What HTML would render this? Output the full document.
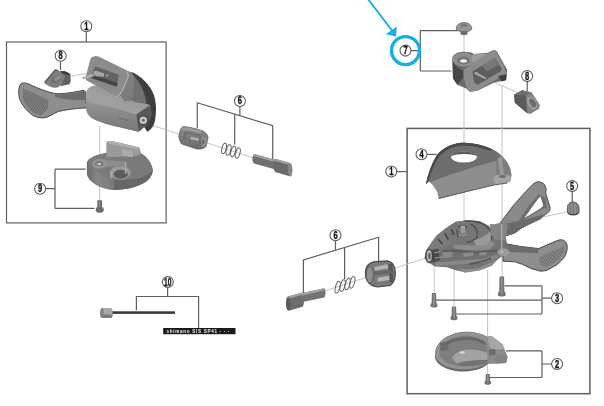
<!DOCTYPE html>
<html><head><meta charset="utf-8">
<style>
html,body{margin:0;padding:0;background:#fff;width:604px;height:406px;overflow:hidden}
svg{position:absolute;left:0;top:0;display:block;will-change:transform;filter:blur(0.35px)}
.ln{stroke:#5e5e5e;stroke-width:1.2;fill:none}
.ax{stroke:#c4c4c4;stroke-width:1;fill:none}
.lb circle{fill:#fff;stroke:#5a5a5a;stroke-width:1.05}
.lb text{font-family:"Liberation Sans",sans-serif;font-weight:bold;font-size:10px;fill:#151515;stroke:#151515;stroke-width:0.38}
</style></head><body>
<svg width="604" height="406" viewBox="0 0 604 406">
<!-- boxes -->
<rect class="ln" x="6.5" y="42" width="159.6" height="180.9"/>
<rect class="ln" x="407.1" y="128.4" width="182.8" height="265.3" style="stroke-width:1.5"/>
<!-- axis lines -->
<g class="ax">
<line x1="71.5" y1="75.8" x2="91" y2="73"/>
<line x1="99.7" y1="126" x2="99.7" y2="206"/>
<line x1="145" y1="123" x2="291" y2="170"/>
<line x1="464" y1="35" x2="464" y2="222"/>
<line x1="502" y1="85" x2="502" y2="277"/>
<line x1="484" y1="77.8" x2="517" y2="92.4"/>
<line x1="323" y1="291.5" x2="426" y2="258"/>
<line x1="566.4" y1="212" x2="500" y2="226"/>
<line x1="434.2" y1="262" x2="434.2" y2="293"/>
<line x1="454.1" y1="266" x2="454.1" y2="306"/>
<line x1="487.6" y1="270" x2="487.6" y2="375"/>
</g>
<!-- leader lines -->
<g class="ln">
<path d="M86.3 31.6V42"/>
<path d="M60.5 61.3V70"/>
<path d="M45.3 188.7H55M55 169.2V208.4M55 169.2H85.5M55 208.4H94.5"/>
<path d="M239.9 106.3V115.5M197.3 128V102.7L272.7 125.8V159M234.7 114.2V144.4"/>
<path d="M167.6 287.5V296.5M136.4 310.3V296.5H198.6V328"/>
<path d="M410.8 50.6H420.3M420.3 30.6V71M420.3 30.6H457.6M420.3 71H451.5"/>
<path d="M527.2 81.4V91"/>
<path d="M396.8 171.6H407.1"/>
<path d="M426.7 154.4H436.7"/>
<path d="M572.2 191.5V202"/>
<path d="M551.8 298.2H542M435.6 300.2H542M542 285.9V314M504.5 285.9H542M454.8 314H542"/>
<path d="M551.8 364H542M542 350.9V377.5M506 350.9H542M488.5 377.5H542"/>
<path d="M335.5 240.6V249.6M303.4 294V259.9L378.6 237.3V262M344.6 247.7V279"/>
</g>
<!-- blue highlight -->
<g stroke="#0fb0ec" fill="none">
<circle cx="405.5" cy="50.6" r="14" stroke-width="3.3"/>
<line x1="367.9" y1="-1" x2="392" y2="30.5" stroke-width="1.9"/>
</g>
<polygon points="396,36.4 385.8,34.3 396.8,26.6" fill="#0fb0ec"/>

<defs>
<linearGradient id="gBody" x1="0" y1="0" x2="0" y2="1"><stop offset="0" stop-color="#a2a2a2"/><stop offset="0.45" stop-color="#8a8a8a"/><stop offset="1" stop-color="#5c5c5c"/></linearGradient>
<linearGradient id="gLever" x1="0" y1="0" x2="1" y2="1"><stop offset="0" stop-color="#909090"/><stop offset="1" stop-color="#7c7c7c"/></linearGradient>
<linearGradient id="gDisc" x1="0" y1="0" x2="1" y2="0"><stop offset="0" stop-color="#6a6a6a"/><stop offset="0.5" stop-color="#8c8c8c"/><stop offset="1" stop-color="#6a6a6a"/></linearGradient>
<linearGradient id="gFront" x1="0" y1="0" x2="0" y2="1"><stop offset="0" stop-color="#949494"/><stop offset="1" stop-color="#777"/></linearGradient>
<linearGradient id="gWall" x1="0" y1="0" x2="1" y2="0"><stop offset="0" stop-color="#6a6a6a"/><stop offset="0.4" stop-color="#868686"/><stop offset="1" stop-color="#7a7a7a"/></linearGradient>
<linearGradient id="gNut" x1="0" y1="0" x2="0" y2="1"><stop offset="0" stop-color="#8c8c8c"/><stop offset="1" stop-color="#6a6a6a"/></linearGradient>
<pattern id="hatch2" width="16" height="16" patternUnits="userSpaceOnUse" patternTransform="rotate(35)"><rect width="16" height="16" fill="#8a8a8a"/><rect width="6" height="16" fill="#666"/></pattern>
<pattern id="hatch" width="2" height="2" patternUnits="userSpaceOnUse" patternTransform="rotate(35)"><rect width="2" height="2" fill="#868686"/><rect width="0.9" height="2" fill="#626262"/></pattern>
</defs>
<!-- LEFT SHIFTER -->
<g id="leftShifter">
<!-- lever paddle -->
<path d="M21,83.6 C23,82.6 27,82.6 32.2,85.6 C38,88.5 46,91.5 54.7,93.5 C60,94 68,93.5 84,90.2 L87,108 C80,108.2 72,108.6 58.7,111.4 C54,113 52,115.5 46,117.5 C41,118.5 37,117.5 33,115.5 C27,111.5 22,105 19.6,98.8 C18.2,94 18.2,87 21,83.6 Z" fill="#8e8e8e" stroke="#3c3c3c" stroke-width="0.9"/>
<path d="M55,94.5 C65,95 75,93 86,91 L86.5,100 C76,100.5 66,100 55,97 Z" fill="#6c6c6c"/>
<path d="M22.9,88.2 C32,92 42,97 48.1,100.2 L48.1,108.1 C45,112 43,114.5 40.2,115.4 C36,114.5 33,113 30.9,110.8 C27,106 24,102 22.9,98.8 Z" fill="url(#hatch)"/>
<!-- dark back shell -->
<g transform="translate(80 52) scale(0.2069)">
<path d="M248,96 C295,116 340,160 358,210 C370,250 370,290 362,335 C355,360 345,375 325,386 L270,300 L262,180 Z" fill="#3e3e3e"/>
<path d="M236,94 C275,120 305,170 318,228 L322,262 L268,300 L196,212 Z" fill="#707070"/>
<!-- body -->
<path d="M30,205 C30,182 45,166 72,162 C100,160 128,168 150,180 L262,240 L338,255 L345,300 C340,330 320,360 285,385 L200,365 C150,355 100,342 62,322 C42,310 30,292 30,270 Z" fill="#9c9c9c"/>
<path d="M30,238 C70,250 140,262 200,280 C230,288 255,296 272,302 L280,385 L200,366 C150,356 100,343 62,323 C42,311 30,292 30,270 Z" fill="url(#gFront)"/>
<path d="M40,178 C80,190 140,215 190,240 C230,258 262,270 300,280 L272,302 C230,290 180,276 140,262 C100,250 60,240 30,236 L32,200 Z" fill="#a4a4a4" opacity="0.55"/>
<path d="M272,302 L340,256 L346,300 C340,330 320,360 282,386 Z" fill="#585858"/>
<circle cx="306" cy="330" r="21" fill="#c8c8c8" stroke="#3c3c3c" stroke-width="5"/>
<circle cx="306" cy="330" r="7" fill="#666"/>
<path d="M185,318 L235,332" stroke="#6a6a6a" stroke-width="6" opacity="0.8"/>
<!-- stand -->
<path d="M192,198 L258,208 L248,236 L212,238 Z" fill="#7a7a7a"/>
<!-- bracket frame -->
<path d="M90,22 L245,98 C255,104 259,111 259,120 L257,201 C250,208 240,212 230,213 L173,215 L36,140 C28,136 25,128 28,120 L50,35 C53,28 58,25 64,23 C70,18 80,18 90,22 Z" fill="#8c8c8c"/>
<path d="M226,95 L245,98 C255,104 259,111 259,120 L257,201 C250,208 240,212 230,213 L173,215 C182,215 192,210 200,195 L232,125 C235,110 233,100 226,95 Z" fill="#7e7e7e"/>
<path d="M226,95 C233,100 235,110 232,125 L200,195 C192,210 182,215 173,215" fill="none" stroke="#b8b8b8" stroke-width="5"/>
<path d="M72,68 L188,110 L176,176 L52,134 Z" fill="#646464"/>
<path d="M58,108 L182,150 L178,168 L55,126 Z" fill="#454545"/>
<path d="M54,127 L178,168 L176,176 L52,134 Z" fill="#8a8a8a"/>
<path d="M10,122 L70,104 L72,116 L14,132 Z" fill="#b0b0b0"/>
<path d="M62,96 C66,88 80,86 90,92 L120,102 L118,122 L86,120 C72,118 60,108 62,96 Z" fill="#a8a8a8" stroke="#555" stroke-width="4"/>
<path d="M125,104 L140,108 L138,124 L122,120 Z" fill="#909090" stroke="#555" stroke-width="3"/>
</g>
</g>
<!-- part 8 left -->
<g transform="translate(40 62) scale(0.07386)">
<path d="M262,130 L325,122 C360,135 395,150 412,172 L416,255 L402,300 L285,325 L262,300 Z" fill="#626262"/>
<path d="M262,130 L325,122 C360,135 395,150 412,172 L400,185 C370,170 340,160 300,158 Z" fill="#3e3e3e"/>
<path d="M58,272 L195,108 C210,98 230,100 245,112 L340,185 L300,290 C280,320 250,340 220,348 C195,352 170,350 140,335 L78,302 C62,295 55,285 58,272 Z" fill="#7e7e7e"/>
<path d="M58,272 L195,108 C210,98 230,100 245,112 L255,122 L210,118 L80,270 Z" fill="#5a5a5a"/>
<ellipse cx="222" cy="232" rx="68" ry="42" transform="rotate(-38 222 232)" fill="#6c6c6c"/>
<ellipse cx="235" cy="222" rx="50" ry="28" transform="rotate(-38 235 222)" fill="#8e8e8e"/>
</g>
<!-- dial part 9 -->
<g transform="translate(80 135) scale(0.1479)">
<path d="M48,185 C55,160 100,135 180,120 L180,45 L212,40 L400,85 L412,125 C450,145 488,190 492,240 C492,262 482,282 460,305 C420,340 340,370 250,372 C160,370 80,335 52,280 C46,260 46,205 48,185 Z" fill="#6c6c6c"/>
<path d="M48,185 C55,160 100,135 180,120 L412,125 C450,145 488,190 492,240 C480,275 420,300 340,305 C250,310 160,295 100,255 C60,225 48,205 48,185 Z" fill="#7a7a7a"/>
<path d="M48,178 C70,230 140,280 230,300 L230,372 C150,365 80,330 52,280 C46,260 46,215 48,178 Z" fill="url(#gWall)"/>
<path d="M230,300 C330,315 450,290 490,240 C488,262 480,282 460,305 C420,340 340,368 230,372 Z" fill="#676767"/>
<path d="M180,45 L212,40 L400,85 L412,125 L385,142 L180,150 Z" fill="#9a9a9a"/>
<path d="M180,45 L212,40 L400,85 L405,100 L200,60 Z" fill="#b0b0b0"/>
<path d="M285,95 L360,110 L355,150 L285,140 Z" fill="#acacac"/>
<path d="M150,165 L300,180 L315,205 L160,218 Z" fill="#8c8c8c"/>
<ellipse cx="130" cy="195" rx="48" ry="32" fill="#959595"/>
<ellipse cx="130" cy="192" rx="28" ry="17" fill="#7a7a7a"/>
<ellipse cx="130" cy="196" rx="14" ry="7" fill="#d0d0d0"/>
<ellipse cx="272" cy="255" rx="72" ry="46" fill="#9a9a9a"/>
<ellipse cx="275" cy="265" rx="48" ry="30" fill="#5c5c5c"/>
<path d="M308,185 L308,262 M210,250 L210,292" stroke="#b0b0b0" stroke-width="9"/>
</g>
<!-- screw 9 -->
<path d="M97.3,200.2 L102,200.2 L102,206.7 C103.5,207.5 104,209 103.8,210.5 C103.3,212.3 101.5,212.8 99.8,212.8 C97.5,212.8 95.8,212 95.8,210 C95.8,208.5 96.5,207.3 97.3,206.7 Z" fill="#6c6c6c"/>
<rect x="98.8" y="200.5" width="1.5" height="7" fill="#8c8c8c"/>
<!-- PART 6 LEFT -->
<g transform="translate(170 120) scale(0.2153)">
<path d="M60,30 C90,32 130,42 150,50 C165,58 175,68 177,80 L168,122 C160,132 145,136 125,135 L55,112 C45,100 40,85 42,70 C45,50 50,38 60,30 Z" fill="url(#gNut)" stroke="#4a4a4a" stroke-width="3"/>
<path d="M60,32 C90,34 130,44 150,52 L140,62 C110,52 80,48 55,48 Z" fill="#9a9a9a"/>
<path d="M68,52 L145,70 L140,104 L62,88 Z" fill="#6e6e6e"/>
<path d="M76,60 L138,75 L134,98 L72,84 Z" fill="#7e7e7e"/>
<path d="M98,78 L134,86 L132,98 L96,90 Z" fill="#b0b0b0"/>
<path d="M145,75 L175,82 L168,122 L148,128 Z" fill="#8c8c8c"/>
<path d="M150,95 L160,98 L158,110 L148,108 Z" fill="#666"/>
<g fill="none" stroke="#606060" stroke-width="4.5"><ellipse cx="251" cy="132" rx="10" ry="25" transform="rotate(15 251 132)"/><ellipse cx="272" cy="139.5" rx="10" ry="25" transform="rotate(15 272 139.5)"/><ellipse cx="293.5" cy="146.5" rx="10" ry="25" transform="rotate(15 293.5 146.5)"/><ellipse cx="315" cy="153.5" rx="10" ry="25" transform="rotate(15 315 153.5)"/></g>
<path d="M392,158 L490,186 L490,230 L390,202 C380,196 380,164 392,158 Z" fill="#707070"/>
<path d="M392,158 L490,186 L490,196 L388,167 Z" fill="#a2a2a2"/>
<path d="M488,180 L558,200 C570,208 572,252 560,262 L488,242 C478,234 478,188 488,180 Z" fill="#6a6a6a"/>
<path d="M488,180 L558,200 L560,210 L484,189 Z" fill="#a0a0a0"/>
<ellipse cx="558" cy="231" rx="10" ry="30" fill="#888"/>
</g>
<!-- PART 10 cable -->
<g>
<path d="M102.5,308 L111,308 C112.2,308.5 112.8,310 112.8,313 C112.8,316 112.2,317.5 111,318 L102.5,318 C100.8,317.5 100,315.5 100,313 C100,310.5 100.8,308.5 102.5,308 Z" fill="#a8a8a8"/>
<path d="M100.3,314.5 L112.8,314.5 C112.6,316.5 112,317.6 111,318 L102.5,318 C101,317.6 100.5,316.3 100.3,314.5 Z" fill="#7c7c7c"/>
<ellipse cx="102" cy="313" rx="1.8" ry="5" fill="#858585"/>
<rect x="112.5" y="311.3" width="62.5" height="2.6" fill="#3a3a3a"/>
<rect x="163.2" y="328" width="72.3" height="6.2" fill="#1a1a1a"/>
<text x="166.5" y="332.9" textLength="63" lengthAdjust="spacing" style="font-family:'Liberation Sans',sans-serif;font-size:4.6px;font-weight:bold;fill:#f0f0f0">shimano SIS   SP41  · · ·</text>
</g>
<!-- PART 7 screw -->
<path d="M460.3,30 L467.7,30 L467.5,34.5 C466,35.6 462,35.6 460.5,34.5 Z" fill="#7a7a7a"/>
<path d="M460.5,32 L467.5,32 M460.5,33.5 L467.5,33.5" stroke="#5a5a5a" stroke-width="0.5"/>
<path d="M456.3,29.3 C456,25 459.5,22.6 464,22.6 C468.5,22.6 472,25 471.7,29.3 C470,31.3 467,31.8 464,31.8 C461,31.8 458,31.3 456.3,29.3 Z" fill="#969696" stroke="#555" stroke-width="0.7"/>
<ellipse cx="464" cy="25.3" rx="3.6" ry="1.6" fill="#7a7a7a"/>
<!-- PART 7 -->
<g transform="translate(445 45) scale(0.1233)">
<path d="M60,100 C70,75 100,58 150,55 C190,55 220,62 235,72 L345,62 L385,45 C400,40 415,45 425,60 L500,195 L498,262 L462,292 L400,305 L262,372 L200,380 L172,352 L100,322 L65,272 Z" fill="#6a6a6a"/>
<path d="M60,105 C62,140 90,190 150,205 L150,262 L100,322 L65,272 Z" fill="#474747"/>
<ellipse cx="150" cy="118" rx="90" ry="58" fill="#8e8e8e"/>
<ellipse cx="150" cy="125" rx="50" ry="32" fill="#767676"/>
<ellipse cx="150" cy="130" rx="28" ry="14" fill="#f0f0f0"/>
<path d="M225,75 L340,68 L250,150 L215,130 Z" fill="#9e9e9e"/>
<path d="M150,200 L345,65 C365,52 385,44 402,45 C412,46 420,52 425,62 L500,200 C502,215 496,230 488,238 L270,365 C250,376 220,380 205,375 C185,365 175,350 170,335 L150,255 Z" fill="#8c8c8c"/>
<path d="M402,45 C412,46 420,52 425,62 L500,200 L502,240 L480,170 L420,60 Z" fill="#5a5a5a"/>
<path d="M222,215 L405,105 L462,192 L450,215 L265,322 L236,302 Z" fill="#5e5e5e"/>
<path d="M300,168 L405,105 L440,160 L340,215 Z" fill="#777"/>
<path d="M236,220 C245,210 260,212 270,225 L335,262 C340,268 338,280 328,282 L262,250 C245,245 232,235 236,220 Z" fill="#a4a4a4" stroke="#555" stroke-width="6"/>
<path d="M430,252 L500,238 L496,285 L462,296 Z" fill="#3e3e3e"/>
</g>
<!-- PART 8 right -->
<g transform="translate(500 60) scale(0.1477)">
<path d="M95,235 L150,205 L215,220 L270,305 L265,330 L205,365 L185,360 L100,290 Z" fill="#858585"/>
<path d="M95,235 L150,205 L175,240 L185,360 L100,290 Z" fill="#5a5a5a"/>
<path d="M95,235 L150,205 L215,220 L175,240 Z" fill="#6e6e6e"/>
<ellipse cx="218" cy="292" rx="30" ry="46" transform="rotate(-30 218 292)" fill="#9c9c9c"/>
<ellipse cx="222" cy="290" rx="18" ry="32" transform="rotate(-30 222 290)" fill="#6c6c6c"/>
</g>
<!-- PART 4 cover -->
<g transform="translate(420 135) scale(0.1724)">
<path d="M35,285 C45,230 70,160 100,115 C130,80 180,50 240,45 C300,42 360,55 420,82 C470,110 510,150 525,200 C535,240 530,265 510,275 L430,290 L300,322 L108,370 L100,330 L75,292 L50,268 Z" fill="#8e8e8e"/>
<path d="M35,285 C45,230 70,160 100,115 C130,80 180,50 240,45 C300,42 360,55 420,82 C455,100 470,115 478,125 L440,150 L300,190 L170,232 L60,272 L50,268 Z" fill="#6e6e6e"/>
<path d="M35,285 C45,230 70,160 100,115 C130,80 180,50 240,45 C300,42 360,55 420,82 L405,92 C350,70 290,60 240,62 C185,66 140,90 112,125 C85,165 62,220 50,268 Z" fill="#4a4a4a"/>
<ellipse cx="255" cy="128" rx="75" ry="32" fill="#fff"/>
<path d="M181,124 C190,104 225,96 256,96 C290,96 320,106 329,122 C312,114 288,110 256,110 C224,110 198,114 181,124 Z" fill="#5a5a5a"/>
<path d="M440,150 L478,125 C505,150 525,185 530,230 L525,265 L505,275 L440,272 Z" fill="#7e7e7e"/>
<path d="M450,135 L475,125 L488,240 L468,242 Z" fill="#999"/>
<path d="M430,240 C450,225 500,225 528,240 L526,268 L505,280 L440,285 L425,265 Z" fill="#a4a4a4"/>
<ellipse cx="478" cy="240" rx="20" ry="9" fill="#707070"/>
<path d="M108,368 L300,320 L430,290 L505,278" fill="none" stroke="#5e5e5e" stroke-width="6"/>
</g>
<!-- RIGHT SHIFTER -->
<g>
<!-- upper release arm -->
<g transform="translate(495 178) scale(0.1527)">
<path d="M30,300 L120,180 L200,90 L255,35 C265,27 280,22 290,25 C305,28 318,33 325,45 L335,70 L332,100 L360,190 C362,200 360,215 352,222 L330,240 L240,290 L170,330 L130,360 L70,380 L40,360 Z M182,270 L275,140 L300,115 L320,180 L302,200 L230,245 Z" fill="#8a8a8a" fill-rule="evenodd" stroke="#454545" stroke-width="6"/>
<path d="M182,270 L275,140 L300,115 L282,112 L200,210 L150,290 Z" fill="#6e6e6e"/>
<path d="M300,115 L320,180 L302,200 L340,200 L330,130 Z" fill="#6e6e6e"/>
<path d="M70,300 L200,270 L330,235 L300,270 L170,330 L130,360 L70,370 Z" fill="#6a6a6a"/>
</g>
<!-- lower paddle -->
<g transform="translate(495 230) scale(0.1325)">
<path d="M60,100 L200,125 L330,140 L400,110 L470,80 C490,72 505,72 518,78 C535,88 545,105 545,130 C545,160 535,185 520,210 L470,260 L400,300 C380,308 360,312 340,310 L270,290 L210,260 L150,240 L60,235 Z" fill="#8e8e8e" stroke="#3a3a3a" stroke-width="7"/>
<path d="M62,104 L200,125 L330,142 L325,175 L200,170 L62,165 Z" fill="#6c6c6c"/>
<path d="M330,210 L430,160 L520,125 L525,160 L470,230 L390,280 L340,265 Z" fill="url(#hatch2)"/>
</g>
<!-- body -->
<g transform="translate(420 215) scale(0.149)">
<path d="M40,240 L70,195 L110,140 L170,90 L240,45 L330,35 L400,40 L460,70 L485,95 L500,75 L560,55 L590,230 L560,270 L520,300 L480,340 L400,370 L300,385 L240,370 L180,350 L100,345 L60,320 L30,290 Z" fill="#747474"/>
<path d="M40,240 L70,195 L110,140 L170,90 L240,45 L300,38 L230,120 L200,200 L60,255 Z" fill="#7c7c7c"/>
<ellipse cx="320" cy="125" rx="145" ry="88" fill="#767676"/>
<path d="M300,40 C380,38 440,60 470,100 C490,130 485,160 470,185" fill="none" stroke="#4a4a4a" stroke-width="9"/>
<path d="M340,62 C380,80 395,115 380,150 C365,170 340,180 310,185" fill="none" stroke="#4e4e4e" stroke-width="10"/>
<path d="M250,95 C245,115 250,135 258,150" fill="none" stroke="#4e4e4e" stroke-width="9"/>
<ellipse cx="287" cy="80" rx="32" ry="12" fill="#555"/>
<path d="M270,80 L305,80 L303,122 L272,122 Z" fill="#9a9a9a"/>
<ellipse cx="288" cy="80" rx="17" ry="6" fill="#b0b0b0"/>
<path d="M360,170 C400,160 440,140 470,110 C480,140 478,175 465,200 L380,215 Z" fill="#9a9a9a"/>
<path d="M255,130 L320,128 L318,140 L258,142 Z" fill="#8a8a8a"/>
<path d="M120,160 L150,195 M165,120 L190,165 M210,95 L228,135" stroke="#4a4a4a" stroke-width="12"/>
<path d="M220,200 L440,205 L480,170 L500,200 L460,240 L230,235 Z" fill="#8c8c8c"/>
<path d="M70,235 L220,225 L380,240 L520,225 L540,265 L470,290 L300,300 L150,325 L80,310 Z" fill="#707070"/>
<path d="M80,240 L220,232 L380,246 L520,232 L522,245 L380,258 L220,246 L85,256 Z" fill="#5c5c5c"/>
<path d="M150,250 L215,245 L220,280 L155,290 Z M290,255 L360,250 L355,275 L290,280 Z M400,250 L450,248 L445,270 L400,272 Z" fill="#8a8a8a"/>
<path d="M100,320 L250,305 L420,295 L520,265 L525,290 L420,318 L250,332 L110,342 Z" fill="#888"/>
<path d="M240,350 C300,372 380,368 440,335 L520,295 L480,342 L400,372 L300,387 Z" fill="#8e8e8e"/>
<path d="M330,330 C380,322 430,308 480,290" stroke="#555" stroke-width="10" fill="none"/>
<path d="M470,60 L500,62 L560,45 L592,70 L570,170 L505,165 L475,130 Z" fill="#848484"/>
<path d="M70,240 L120,225 L135,300 L85,320 Z" fill="#4a4a4a"/>
<ellipse cx="62" cy="275" rx="22" ry="44" fill="#b4b4b4" stroke="#3e3e3e" stroke-width="9"/>
<ellipse cx="64" cy="275" rx="9" ry="22" fill="#666"/>
<path d="M95,255 L150,240 M100,290 L150,280" stroke="#9a9a9a" stroke-width="8"/>
<ellipse cx="560" cy="250" rx="40" ry="25" fill="#9a9a9a"/>
<ellipse cx="548" cy="250" rx="12" ry="7" fill="#777"/>
</g>
</g>
<line x1="501.8" y1="224" x2="501.8" y2="252" stroke="#b8b8b8" stroke-width="1"/>
<ellipse cx="501.8" cy="252" rx="1.6" ry="1" fill="#c8c8c8"/>
<!-- PART 5 -->
<path d="M567.4,207.5 C567.4,204 570,202 573.5,202 C576.5,202 578.7,204.5 579,207.5 L579,212.3 C578.5,214.2 576,214.8 573,214.8 C570,214.8 567.8,214 567.4,212.3 Z" fill="#8c8c8c" stroke="#4a4a4a" stroke-width="0.9"/>
<path d="M570.5,204 C570,207 570,211 570.5,214 M573.5,203 L573.5,214.5 M576.5,204 C577,207 577,211 576.5,214" stroke="#6a6a6a" stroke-width="0.6" fill="none"/>
<path d="M568,212.5 L570,214.6 L572,214.7 L574,214.7 L576,214.6 L578.5,212.5" stroke="#333" stroke-width="1" fill="none"/>
<!-- PART 6 right -->
<g transform="translate(280 250) scale(0.1988)">
<path d="M40,234 L112,214 C124,224 124,274 114,286 L44,306 C28,296 28,244 40,234 Z" fill="#6c6c6c"/>
<path d="M40,234 L112,214 L115,225 L38,247 Z" fill="#a0a0a0"/>
<ellipse cx="41" cy="270" rx="11" ry="34" fill="#5a5a5a"/>
<path d="M110,218 L222,192 C231,200 231,232 222,239 L114,262 Z" fill="#737373"/>
<path d="M110,218 L222,192 L224,202 L112,229 Z" fill="#a2a2a2"/>
<g fill="none" stroke="#606060" stroke-width="5"><ellipse cx="290" cy="187" rx="11" ry="30" transform="rotate(15 290 187)"/><ellipse cx="315" cy="179" rx="11" ry="30" transform="rotate(15 315 179)"/><ellipse cx="340" cy="171" rx="11" ry="30" transform="rotate(15 340 171)"/><ellipse cx="364" cy="163" rx="11" ry="30" transform="rotate(15 364 163)"/></g>
<path d="M432,95 C436,80 445,68 470,60 L540,55 C560,58 572,70 578,95 C584,130 578,160 555,178 L490,186 C465,184 445,170 436,150 C430,135 430,110 432,95 Z" fill="#7a7a7a" stroke="#4a4a4a" stroke-width="6"/>
<ellipse cx="452" cy="125" rx="18" ry="42" fill="#8e8e8e" stroke="#555" stroke-width="4"/>
<path d="M475,85 L540,72 L545,92 L478,105 Z" fill="#b4b4b4"/>
<path d="M490,140 L555,128 L556,150 L492,160 Z" fill="#b4b4b4"/>
<path d="M545,70 L565,68 L570,160 L552,165 Z" fill="#555"/>
<path d="M470,110 L560,100 L562,118 L472,128 Z" fill="#666"/>
</g>
<!-- SCREWS 3 -->
<g>
<path d="M499.5,276.5 L504.1,276.5 L504.4,291.5 C505.9,292.0 505.9,295.5 505.4,295.8 C503.8,296.8 499.8,296.8 498.2,295.8 C497.7,295.5 497.7,292.0 499.2,291.5 Z" fill="#727272"/><rect x="501.2" y="277.0" width="1.2" height="17.5" fill="#9a9a9a"/>
<path d="M431.9,293.0 L436.1,293.0 L436.4,303.0 C437.7,303.5 437.7,306.5 437.2,306.8 C436.0,307.8 432.0,307.8 430.8,306.8 C430.3,306.5 430.3,303.5 431.6,303.0 Z" fill="#727272"/><rect x="433.4" y="293.5" width="1.2" height="12.0" fill="#9a9a9a"/>
<path d="M451.9,306.5 L456.1,306.5 L456.4,315.8 C457.7,316.3 457.7,319.3 457.2,319.6 C456.0,320.6 452.0,320.6 450.8,319.6 C450.3,319.3 450.3,316.3 451.6,315.8 Z" fill="#727272"/><rect x="453.4" y="307.0" width="1.2" height="11.3" fill="#9a9a9a"/>
<path d="M485.8,374.0 L489.8,374.0 L490.1,380.6 C491.3,381.1 491.3,383.6 490.8,383.90000000000003 C489.8,384.90000000000003 485.8,384.90000000000003 484.8,383.90000000000003 C484.3,383.6 484.3,381.1 485.5,380.6 Z" fill="#727272"/><rect x="487.2" y="374.5" width="1.2" height="8.1" fill="#9a9a9a"/>
</g>
<!-- PART 2 -->
<g transform="translate(425 325) scale(0.149)">
<path d="M68,190 C75,100 180,48 270,46 C340,45 395,62 422,85 L422,262 C380,302 300,316 230,312 C140,304 72,265 66,215 Z" fill="#6a6a6a"/>
<path d="M68,180 C80,100 180,50 270,48 C340,47 395,64 422,88 L422,250 C380,290 300,300 230,297 C140,290 75,250 68,200 Z" fill="#929292"/>
<path d="M95,180 C100,120 180,75 265,73 C330,72 380,90 410,115 L420,240 C380,270 300,280 235,275 C150,268 92,230 95,180 Z" fill="#7e7e7e"/>
<path d="M100,165 C120,110 190,85 265,83 C330,82 375,95 405,120 L400,135 C370,110 320,98 262,100 C200,102 140,125 108,175 Z" fill="#666"/>
<path d="M100,120 L150,110 L160,165 L110,175 Z" fill="#6a6a6a"/>
<path d="M180,225 C200,180 260,160 320,165 C370,170 400,180 420,190 L422,250 L300,262 L220,268 Z" fill="#a2a2a2"/>
<path d="M205,262 C260,240 340,232 422,235 L422,252 C380,275 300,282 215,272 Z" fill="#727272"/>
<ellipse cx="250" cy="185" rx="18" ry="8" fill="#d8d8d8"/>
<path d="M420,75 L450,75 L520,130 L555,215 L545,255 L420,262 Z" fill="#8a8a8a"/>
<path d="M420,75 L450,75 L520,130 L530,160 L450,170 L430,140 Z" fill="#a6a6a6"/>
<path d="M430,165 L470,160 L475,200 L430,205 Z" fill="#6c6c6c"/>
<path d="M475,195 L552,210 L545,255 L470,260 Z" fill="#828282"/>
</g>
<!-- labels -->
<g class="lb">
<circle cx="86.3" cy="26.2" r="5.5"/><text x="84.20" y="29.75" textLength="4.2" lengthAdjust="spacingAndGlyphs">1</text>
<circle cx="60.66" cy="55.7" r="5.5"/><text x="58.56" y="59.25" textLength="4.2" lengthAdjust="spacingAndGlyphs">8</text>
<circle cx="40.1" cy="188.7" r="5.5"/><text x="38.00" y="192.25" textLength="4.2" lengthAdjust="spacingAndGlyphs">9</text>
<circle cx="239.9" cy="100.9" r="5.5"/><text x="237.80" y="104.45" textLength="4.2" lengthAdjust="spacingAndGlyphs">6</text>
<circle cx="167.8" cy="282.1" r="5.5"/><text x="164.10" y="285.65" textLength="7.4" lengthAdjust="spacingAndGlyphs">10</text>
<circle cx="405.5" cy="50.6" r="5.5"/><text x="403.40" y="54.15" textLength="4.2" lengthAdjust="spacingAndGlyphs">7</text>
<circle cx="527.2" cy="76.1" r="5.5"/><text x="525.10" y="79.65" textLength="4.2" lengthAdjust="spacingAndGlyphs">8</text>
<circle cx="391.3" cy="171.5" r="5.5"/><text x="389.20" y="175.05" textLength="4.2" lengthAdjust="spacingAndGlyphs">1</text>
<circle cx="421.5" cy="154.3" r="5.5"/><text x="419.40" y="157.85" textLength="4.2" lengthAdjust="spacingAndGlyphs">4</text>
<circle cx="572.2" cy="186.1" r="5.5"/><text x="570.10" y="189.65" textLength="4.2" lengthAdjust="spacingAndGlyphs">5</text>
<circle cx="557.1" cy="298.2" r="5.5"/><text x="555.00" y="301.75" textLength="4.2" lengthAdjust="spacingAndGlyphs">3</text>
<circle cx="557.1" cy="364.0" r="5.5"/><text x="555.00" y="367.55" textLength="4.2" lengthAdjust="spacingAndGlyphs">2</text>
<circle cx="335.5" cy="235.3" r="5.5"/><text x="333.40" y="238.85" textLength="4.2" lengthAdjust="spacingAndGlyphs">6</text>
</g>
</svg>
</body></html>
